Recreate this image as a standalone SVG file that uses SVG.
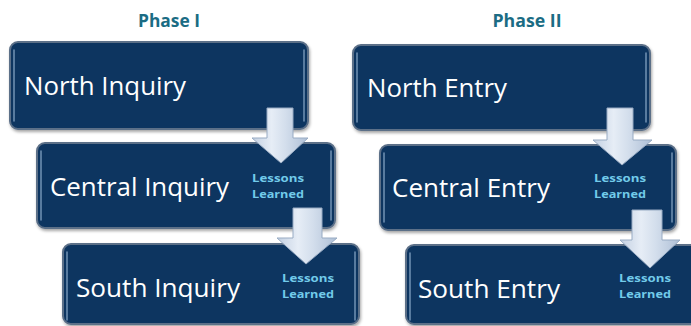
<svg xmlns="http://www.w3.org/2000/svg" width="691" height="326" viewBox="0 0 691 326">
<defs>
<linearGradient id="arrowGrad" x1="0" y1="0" x2="1" y2="0">
<stop offset="0" stop-color="#c3d0e2"/>
<stop offset="0.35" stop-color="#e6edf6"/>
<stop offset="0.6" stop-color="#d3deec"/>
<stop offset="1" stop-color="#aebfd6"/>
</linearGradient>
<filter id="shadow" x="-5%" y="-5%" width="110%" height="115%">
<feDropShadow dx="1" dy="2" stdDeviation="1.5" flood-color="#000" flood-opacity="0.35"/>
</filter>
</defs>
<style>
.box{fill:#0b3460;stroke:#5b6f88;stroke-width:2;filter:url(#shadow)}
.hl{stroke:#9dbbd8;stroke-width:1.5;stroke-linecap:round;opacity:0.7;fill:none}
.main{font-family:"Open Sans","Liberation Sans",sans-serif;font-size:25px;fill:#ffffff}
.ll{font-family:"Open Sans","Liberation Sans",sans-serif;font-size:11px;font-weight:bold;fill:#72cbea;text-anchor:middle}
.phase{font-family:"Open Sans","Liberation Sans",sans-serif;font-size:18px;font-weight:bold;fill:#1b6c84;text-anchor:middle}
.arrow{fill:url(#arrowGrad);stroke:#98abc3;stroke-width:1}
</style>

<text class="phase" x="169" y="27" textLength="62" lengthAdjust="spacingAndGlyphs">Phase I</text>
<text class="phase" x="527" y="27" textLength="69" lengthAdjust="spacingAndGlyphs">Phase II</text>

<g id="north-inquiry">
<rect class="box" x="10" y="42" width="298" height="87" rx="8"/>
<line class="hl" x1="14" y1="50" x2="14" y2="121"/>
<line class="hl" x1="304" y1="50" x2="304" y2="121"/>
<text class="main" x="24" y="95" textLength="162" lengthAdjust="spacingAndGlyphs">North Inquiry</text>
</g>

<g id="central-inquiry">
<rect class="box" x="37" y="143" width="298" height="85" rx="8"/>
<line class="hl" x1="41" y1="151" x2="41" y2="220"/>
<line class="hl" x1="331" y1="151" x2="331" y2="220"/>
<text class="main" x="50" y="196" textLength="179" lengthAdjust="spacingAndGlyphs">Central Inquiry</text>
<text class="ll" x="278" y="182" textLength="52" lengthAdjust="spacingAndGlyphs">Lessons</text>
<text class="ll" x="278" y="198" textLength="52" lengthAdjust="spacingAndGlyphs">Learned</text>
</g>

<g id="south-inquiry">
<rect class="box" x="63" y="244" width="296" height="80" rx="8"/>
<line class="hl" x1="67" y1="252" x2="67" y2="320"/>
<line class="hl" x1="355" y1="252" x2="355" y2="320"/>
<text class="main" x="76" y="297" textLength="164" lengthAdjust="spacingAndGlyphs">South Inquiry</text>
<text class="ll" x="308" y="282" textLength="52" lengthAdjust="spacingAndGlyphs">Lessons</text>
<text class="ll" x="308" y="298" textLength="52" lengthAdjust="spacingAndGlyphs">Learned</text>
</g>

<g id="north-entry">
<rect class="box" x="353" y="45" width="297" height="85" rx="8"/>
<line class="hl" x1="357" y1="53" x2="357" y2="122"/>
<line class="hl" x1="646" y1="53" x2="646" y2="122"/>
<text class="main" x="367" y="97" textLength="140" lengthAdjust="spacingAndGlyphs">North Entry</text>
</g>

<g id="central-entry">
<rect class="box" x="380" y="145" width="296" height="85" rx="8"/>
<line class="hl" x1="384" y1="153" x2="384" y2="222"/>
<line class="hl" x1="672" y1="153" x2="672" y2="222"/>
<text class="main" x="392" y="197" textLength="158" lengthAdjust="spacingAndGlyphs">Central Entry</text>
<text class="ll" x="620" y="182" textLength="52" lengthAdjust="spacingAndGlyphs">Lessons</text>
<text class="ll" x="620" y="198" textLength="52" lengthAdjust="spacingAndGlyphs">Learned</text>
</g>

<g id="south-entry">
<rect class="box" x="406" y="245" width="300" height="79" rx="8"/>
<line class="hl" x1="410" y1="253" x2="410" y2="320"/>
<text class="main" x="418" y="298" textLength="142" lengthAdjust="spacingAndGlyphs">South Entry</text>
<text class="ll" x="645" y="282" textLength="52" lengthAdjust="spacingAndGlyphs">Lessons</text>
<text class="ll" x="645" y="298" textLength="52" lengthAdjust="spacingAndGlyphs">Learned</text>
</g>

<g id="connectors">
<polygon class="arrow" points="267,108 293,108 293,138 308,138 281,163 252,138 267,138"/>
<polygon class="arrow" points="293,208 322,208 322,238 337,238 306,264 277,238 293,238"/>
<polygon class="arrow" points="607,108 633,108 633,140 652,140 622,165 593,140 607,140"/>
<polygon class="arrow" points="632,210 662,210 662,240 680,240 650,268 620,240 632,240"/>
</g>
</svg>
